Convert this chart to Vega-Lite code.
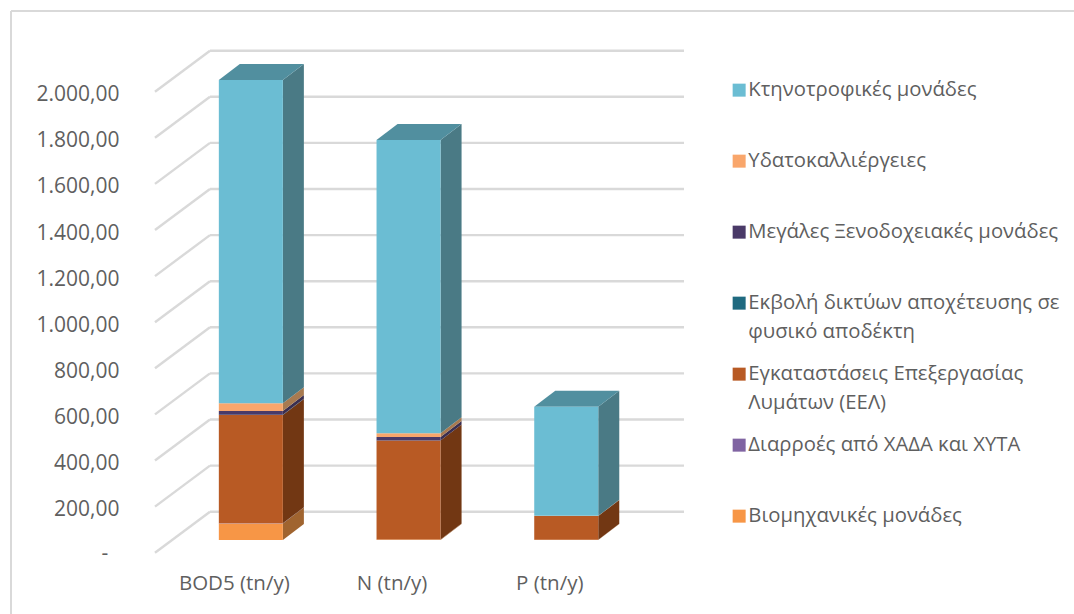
{
  "$schema": "https://vega.github.io/schema/vega-lite/v6.json",
  "width": 1063,
  "height": 603,
  "padding": {"left": 11, "top": 11, "right": 0, "bottom": 0},
  "autosize": "none",
  "background": "white",
  "view": {"stroke": null, "fill": null},
  "config": {"font": "Open Sans"},
  "datasets": {
    "rows": [
      {"category": "BOD5 (tn/y)", "series": "Βιομηχανικές μονάδες", "value": 72},
      {"category": "BOD5 (tn/y)", "series": "Διαρροές από ΧΑΔΑ και ΧΥΤΑ", "value": 0.5},
      {"category": "BOD5 (tn/y)", "series": "Εγκαταστάσεις Επεξεργασίας Λυμάτων (ΕΕΛ)", "value": 470},
      {"category": "BOD5 (tn/y)", "series": "Εκβολή δικτύων αποχέτευσης σε φυσικό αποδέκτη", "value": 0.5},
      {"category": "BOD5 (tn/y)", "series": "Μεγάλες Ξενοδοχειακές μονάδες", "value": 17},
      {"category": "BOD5 (tn/y)", "series": "Υδατοκαλλιέργειες", "value": 33},
      {"category": "BOD5 (tn/y)", "series": "Κτηνοτροφικές μονάδες", "value": 1403},
      {"category": "N (tn/y)", "series": "Βιομηχανικές μονάδες", "value": 2},
      {"category": "N (tn/y)", "series": "Διαρροές από ΧΑΔΑ και ΧΥΤΑ", "value": 0.3},
      {"category": "N (tn/y)", "series": "Εγκαταστάσεις Επεξεργασίας Λυμάτων (ΕΕΛ)", "value": 429},
      {"category": "N (tn/y)", "series": "Εκβολή δικτύων αποχέτευσης σε φυσικό αποδέκτη", "value": 0.3},
      {"category": "N (tn/y)", "series": "Μεγάλες Ξενοδοχειακές μονάδες", "value": 15},
      {"category": "N (tn/y)", "series": "Υδατοκαλλιέργειες", "value": 17},
      {"category": "N (tn/y)", "series": "Κτηνοτροφικές μονάδες", "value": 1272},
      {"category": "P (tn/y)", "series": "Βιομηχανικές μονάδες", "value": 1},
      {"category": "P (tn/y)", "series": "Διαρροές από ΧΑΔΑ και ΧΥΤΑ", "value": 0.1},
      {"category": "P (tn/y)", "series": "Εγκαταστάσεις Επεξεργασίας Λυμάτων (ΕΕΛ)", "value": 103},
      {"category": "P (tn/y)", "series": "Εκβολή δικτύων αποχέτευσης σε φυσικό αποδέκτη", "value": 0.1},
      {"category": "P (tn/y)", "series": "Μεγάλες Ξενοδοχειακές μονάδες", "value": 0.3},
      {"category": "P (tn/y)", "series": "Υδατοκαλλιέργειες", "value": 0.3},
      {"category": "P (tn/y)", "series": "Κτηνοτροφικές μονάδες", "value": 473}
    ],
    "grid": [
      {"tick": 0}, {"tick": 200}, {"tick": 400}, {"tick": 600}, {"tick": 800}, {"tick": 1000},
      {"tick": 1200}, {"tick": 1400}, {"tick": 1600}, {"tick": 1800}, {"tick": 2000}
    ]
  },
  "layer": [
    {
      "data": {"values": [{"edge": -1.5209}]},
      "mark": {"type": "rule", "color": "#D9D9D9", "strokeWidth": 2},
      "encoding": {"x": {"field": "edge", "type": "quantitative"}}
    },
    {
      "data": {"values": [{"edge": 2350.1}]},
      "mark": {"type": "rule", "color": "#D9D9D9", "strokeWidth": 2},
      "encoding": {"y": {"field": "edge", "type": "quantitative"}}
    },
    {
      "data": {"name": "grid"},
      "transform": [
        {"calculate": "datum.tick + 177.9", "as": "back"},
        {"calculate": "-0.6078", "as": "xa"},
        {"calculate": "-0.2590", "as": "xb"}
      ],
      "mark": {"type": "rule", "color": "#D9D9D9", "strokeWidth": 2.4},
      "encoding": {
        "x": {
          "field": "xa", "type": "quantitative",
          "scale": {"domain": [-1.5209, 5.2197], "nice": false, "zero": false},
          "axis": {
            "orient": "bottom", "values": [0, 1, 2], "offset": -31, "title": null,
            "domain": false, "ticks": false, "grid": false, "labelPadding": 0, "labelOffset": -17,
            "labelFontSize": 20.5, "labelColor": "#5F5F5F", "labelFont": "Open Sans", "labelBaseline": "middle",
            "labelExpr": "datum.value === 0 ? 'BOD5 (tn/y)' : datum.value === 1 ? 'N (tn/y)' : 'P (tn/y)'"
          }
        },
        "x2": {"field": "xb"},
        "y": {
          "field": "tick", "type": "quantitative",
          "scale": {"domain": [-265.9, 2350.1], "nice": false, "zero": false},
          "axis": {
            "orient": "left", "values": [200, 400, 600, 800, 1000, 1200, 1400, 1600, 1800, 2000],
            "offset": -108, "title": null, "domain": false, "ticks": false, "grid": false, "labelPadding": 0, "labelOffset": 3,
            "labelFontSize": 21, "labelColor": "#5F5F5F", "labelFont": "Open Sans",
            "labelExpr": "replace(replace(replace(format(datum.value, ',.2f'), ',', '#'), '.', ','), '#', '.')"
          }
        },
        "y2": {"field": "back"}
      }
    },
    {
      "data": {"name": "grid"},
      "transform": [
        {"filter": "datum.tick === 0"},
        {"calculate": "-0.925", "as": "xd"},
        {"calculate": "'-'", "as": "lab"}
      ],
      "mark": {"type": "text", "fontSize": 21, "color": "#5F5F5F", "font": "Open Sans", "align": "center", "baseline": "middle", "dy": 1},
      "encoding": {
        "x": {"field": "xd", "type": "quantitative"},
        "y": {"field": "tick", "type": "quantitative"},
        "text": {"field": "lab"}
      }
    },
    {
      "data": {"name": "grid"},
      "transform": [
        {"calculate": "datum.tick + 177.9", "as": "back"},
        {"calculate": "-0.2590", "as": "xb"},
        {"calculate": "2.7466", "as": "xc"}
      ],
      "mark": {"type": "rule", "color": "#D9D9D9", "strokeWidth": 2.4},
      "encoding": {
        "x": {"field": "xb", "type": "quantitative"},
        "x2": {"field": "xc"},
        "y": {"field": "back", "type": "quantitative"}
      }
    },
    {
      "data": {"name": "rows"},
      "transform": [
        {"calculate": "indexof(['Βιομηχανικές μονάδες','Διαρροές από ΧΑΔΑ και ΧΥΤΑ','Εγκαταστάσεις Επεξεργασίας Λυμάτων (ΕΕΛ)','Εκβολή δικτύων αποχέτευσης σε φυσικό αποδέκτη','Μεγάλες Ξενοδοχειακές μονάδες','Υδατοκαλλιέργειες','Κτηνοτροφικές μονάδες'], datum.series)", "as": "rank"},
        {"stack": "value", "groupby": ["category"], "sort": [{"field": "rank", "order": "ascending"}], "as": ["v0", "v1"]},
        {"calculate": "indexof(['BOD5 (tn/y)','N (tn/y)','P (tn/y)'], datum.category)", "as": "i"},
        {"calculate": "[0, 1]", "as": "t"},
        {"flatten": ["t"]},
        {"calculate": "datum.i + 0.203 + datum.t * 0.1332", "as": "px"},
        {"calculate": "datum.v1 + 55.1 + datum.t * 69.4", "as": "py"},
        {"calculate": "datum.v0 + 55.1 + datum.t * 69.4", "as": "py2"},
        {"calculate": "datum.category + datum.series", "as": "seg"}
      ],
      "mark": {"type": "area", "orient": "vertical"},
      "encoding": {
        "x": {"field": "px", "type": "quantitative"},
        "y": {"field": "py", "type": "quantitative"},
        "y2": {"field": "py2"},
        "detail": {"field": "seg"},
        "fill": {
          "field": "series", "type": "nominal", "legend": null,
          "scale": {
            "domain": ["Κτηνοτροφικές μονάδες", "Υδατοκαλλιέργειες", "Μεγάλες Ξενοδοχειακές μονάδες", "Εκβολή δικτύων αποχέτευσης σε φυσικό αποδέκτη", "Εγκαταστάσεις Επεξεργασίας Λυμάτων (ΕΕΛ)", "Διαρροές από ΧΑΔΑ και ΧΥΤΑ", "Βιομηχανικές μονάδες"],
            "range": ["#4A7A85", "#A87A50", "#3A2E50", "#164A58", "#723713", "#56407A", "#A0642F"]
          }
        }
      }
    },
    {
      "data": {"name": "rows"},
      "transform": [
        {"calculate": "indexof(['Βιομηχανικές μονάδες','Διαρροές από ΧΑΔΑ και ΧΥΤΑ','Εγκαταστάσεις Επεξεργασίας Λυμάτων (ΕΕΛ)','Εκβολή δικτύων αποχέτευσης σε φυσικό αποδέκτη','Μεγάλες Ξενοδοχειακές μονάδες','Υδατοκαλλιέργειες','Κτηνοτροφικές μονάδες'], datum.series)", "as": "rank"},
        {"stack": "value", "groupby": ["category"], "sort": [{"field": "rank", "order": "ascending"}], "as": ["v0", "v1"]},
        {"filter": "datum.rank === 6"},
        {"calculate": "indexof(['BOD5 (tn/y)','N (tn/y)','P (tn/y)'], datum.category)", "as": "i"},
        {"calculate": "[0, 1, 2, 3]", "as": "t"},
        {"flatten": ["t"]},
        {"calculate": "datum.t === 0 ? datum.i - 0.203 : datum.t === 1 ? datum.i - 0.203 + 0.1332 : datum.t === 2 ? datum.i + 0.203 : datum.i + 0.203 + 0.1332", "as": "px"},
        {"calculate": "datum.t === 0 ? datum.v1 + 55.1 : datum.v1 + 55.1 + 69.4", "as": "py"},
        {"calculate": "datum.t === 3 ? datum.v1 + 55.1 + 69.4 : datum.v1 + 55.1", "as": "py2"}
      ],
      "mark": {"type": "area", "orient": "vertical", "color": "#518F9F"},
      "encoding": {
        "x": {"field": "px", "type": "quantitative"},
        "y": {"field": "py", "type": "quantitative"},
        "y2": {"field": "py2"},
        "detail": {"field": "category"}
      }
    },
    {
      "data": {"name": "rows"},
      "transform": [
        {"calculate": "indexof(['Βιομηχανικές μονάδες','Διαρροές από ΧΑΔΑ και ΧΥΤΑ','Εγκαταστάσεις Επεξεργασίας Λυμάτων (ΕΕΛ)','Εκβολή δικτύων αποχέτευσης σε φυσικό αποδέκτη','Μεγάλες Ξενοδοχειακές μονάδες','Υδατοκαλλιέργειες','Κτηνοτροφικές μονάδες'], datum.series)", "as": "rank"},
        {"stack": "value", "groupby": ["category"], "sort": [{"field": "rank", "order": "ascending"}], "as": ["v0", "v1"]},
        {"calculate": "indexof(['BOD5 (tn/y)','N (tn/y)','P (tn/y)'], datum.category)", "as": "i"},
        {"calculate": "datum.i - 0.203", "as": "xl"},
        {"calculate": "datum.i + 0.203", "as": "xr"},
        {"calculate": "datum.v0 + 55.1", "as": "y0p"},
        {"calculate": "datum.v1 + 55.1", "as": "y1p"}
      ],
      "mark": {"type": "rect"},
      "encoding": {
        "x": {"field": "xl", "type": "quantitative"},
        "x2": {"field": "xr"},
        "y": {"field": "y0p", "type": "quantitative"},
        "y2": {"field": "y1p"},
        "color": {
          "field": "series", "type": "nominal",
          "scale": {
            "domain": ["Κτηνοτροφικές μονάδες", "Υδατοκαλλιέργειες", "Μεγάλες Ξενοδοχειακές μονάδες", "Εκβολή δικτύων αποχέτευσης σε φυσικό αποδέκτη", "Εγκαταστάσεις Επεξεργασίας Λυμάτων (ΕΕΛ)", "Διαρροές από ΧΑΔΑ και ΧΥΤΑ", "Βιομηχανικές μονάδες"],
            "range": ["#6BBDD3", "#F9A66B", "#4A3A68", "#1F6A80", "#B85A24", "#8064A2", "#F79646"]
          },
          "legend": {
            "orient": "none", "legendX": 718, "legendY": 69, "title": null,
            "symbolType": "square", "symbolSize": 169, "symbolStrokeWidth": 0, "symbolOpacity": 1,
            "labelFontSize": 20.3, "labelColor": "#5F5F5F", "labelFont": "Open Sans", "labelLimit": 340, "labelOffset": -1,
            "rowPadding": 21,
            "labelExpr": "indexof(datum.label, 'Εκβολή') === 0 ? ['Εκβολή δικτύων αποχέτευσης σε', 'φυσικό αποδέκτη'] : indexof(datum.label, 'Εγκαταστάσεις') === 0 ? ['Εγκαταστάσεις Επεξεργασίας', 'Λυμάτων (ΕΕΛ)'] : [datum.label, '\u00a0']",
            "encoding": {"labels": {"lineHeight": {"value": 29}}}
          }
        }
      }
    }
  ],
  "resolve": {"scale": {"color": "independent"}}
}
